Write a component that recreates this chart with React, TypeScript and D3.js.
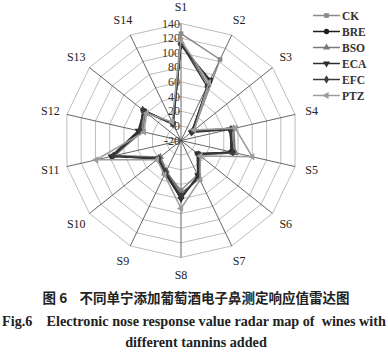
import React from "react";
import * as d3 from "d3";

const sensors = ["S1","S2","S3","S4","S5","S6","S7","S8","S9","S10","S11","S12","S13","S14"];
const ticks = [-20, 0, 20, 40, 60, 80, 100, 120, 140];
const seriesNames = ["CK", "BRE", "BSO", "ECA", "EFC", "PTZ"];
const CK = [126, 103, 2, 52, 55, 8, 32, 48, 28, 18, 72, 36, 44, 6];
const BRE = [112, 70, 0, 50, 50, 10, 35, 58, 30, 20, 76, 38, 46, 5];
const BSO = [115, 65, 1, 54, 56, 12, 38, 52, 26, 16, 74, 34, 42, 4];
const ECA = [110, 72, -2, 48, 52, 9, 33, 60, 30, 20, 78, 40, 45, 6];
const EFC = [113, 62, 0, 50, 53, 11, 36, 56, 28, 19, 75, 37, 47, 5];
const PTZ = [117, 68, 3, 56, 80, 14, 40, 73, 32, 22, 99, 32, 40, 8];

const seriesData = [CK, BRE, BSO, ECA, EFC, PTZ];
const colors = ["#8a8a8a", "#1e1e1e", "#7a7a7a", "#2e2e2e", "#3a3a3a", "#9c9c9c"];
const symbols = [d3.symbolSquare, d3.symbolCircle, d3.symbolTriangle, d3.symbolTriangle, d3.symbolDiamond, d3.symbolTriangle];
const symRot = [0, 0, 0, 180, 0, -90];

const W = 388, H = 356;
const cx = 181, cy = 140.5, R = 117;

export default function App() {
  const r = d3.scaleLinear().domain([-20, 140]).range([0, R]);
  const n = sensors.length;
  const ang = (i: number) => (i * 2 * Math.PI) / n;
  const pt = (i: number, v: number): [number, number] => [
    cx + r(v) * Math.sin(ang(i)),
    cy - r(v) * Math.cos(ang(i)),
  ];
  const line = d3.line<[number, number]>().curve(d3.curveLinearClosed);
  const labelOffset = 17;
  return (
    <svg width={W} height={H} style={{ position: "absolute", left: 0, top: 0, background: "#fff" }}
      fontFamily="'Liberation Serif', 'Times New Roman', serif">
      {/* grid rings */}
      {ticks.slice(1).map((t) => (
        <path key={t} d={line(sensors.map((_, i) => pt(i, t)))!} fill="none" stroke="#b5b5b5" strokeWidth={0.9} />
      ))}
      {/* spokes */}
      {sensors.map((s, i) => {
        const [x, y] = pt(i, 140);
        return <line key={s} x1={cx} y1={cy} x2={x} y2={y} stroke="#555" strokeWidth={0.9} />;
      })}
      {/* tick labels */}
      {ticks.map((t) => (
        <text key={t} x={cx - 1} y={cy - r(t) + 4} textAnchor="end" fontSize={12} fill="#333">{t}</text>
      ))}
      {/* axis labels */}
      {sensors.map((s, i) => {
        const x = cx + (R + labelOffset) * Math.sin(ang(i));
        const y = cy - (R + labelOffset) * Math.cos(ang(i));
        return (
          <text key={s} x={x} y={y + 4} textAnchor="middle" fontSize={12} fill="#222">{s}</text>
        );
      })}
      {/* series */}
      {seriesData.map((vals, k) => (
        <g key={seriesNames[k]}>
          <path d={line(vals.map((v, i) => pt(i, v)))!} fill="none" stroke={colors[k]} strokeWidth={1.5} />
          {vals.map((v, i) => {
            const [x, y] = pt(i, v);
            return (
              <path key={i} d={d3.symbol().type(symbols[k]).size(22)()!} transform={`translate(${x},${y}) rotate(${symRot[k]})`} fill={colors[k]} />
            );
          })}
        </g>
      ))}
      {/* legend */}
      {seriesNames.map((nm, k) => {
        const y = 15.5 + k * 16;
        return (
          <g key={nm}>
            <line x1={313} x2={340} y1={y} y2={y} stroke={colors[k]} strokeWidth={1.5} />
            <path d={d3.symbol().type(symbols[k]).size(22)()!} transform={`translate(326.5,${y}) rotate(${symRot[k]})`} fill={colors[k]} />
            <text x={342} y={y + 4} fontSize={11.5} fontWeight="bold" fill="#333">{nm}</text>
          </g>
        );
      })}
      {/* captions */}
      <text x={196} y={303} textAnchor="middle" fontSize={13.5} fontWeight="bold" fill="#222"
        fontFamily="'Noto Sans CJK SC', sans-serif" style={{ whiteSpace: "pre" }}>{"图 6    不同单宁添加葡萄酒电子鼻测定响应值雷达图"}</text>
      <text x={194} y={326} textAnchor="middle" fontSize={14.2} fontWeight="bold" fill="#222" style={{ whiteSpace: "pre" }}>
        {"Fig.6    Electronic nose response value radar map of  wines with"}
      </text>
      <text x={196} y={347} textAnchor="middle" fontSize={14.2} fontWeight="bold" fill="#222">different tannins added</text>
    </svg>
  );
}
